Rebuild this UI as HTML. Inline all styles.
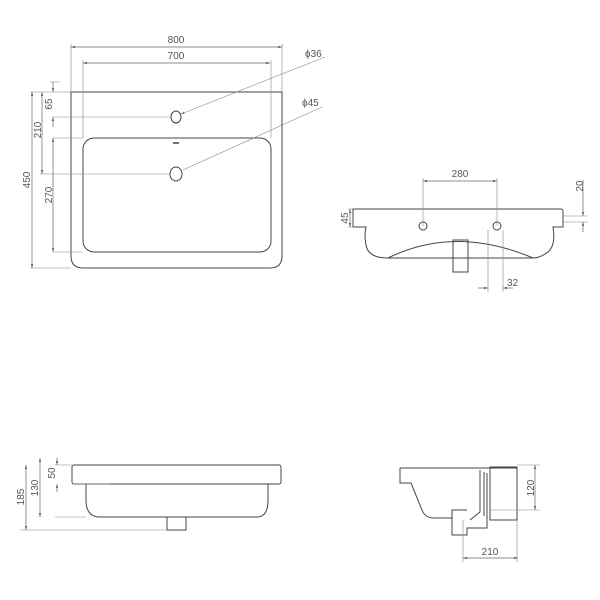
<!DOCTYPE html>
<html><head><style>body{margin:0;background:#fff}svg{display:block}text{font-family:"Liberation Sans",sans-serif;font-size:10px;fill:#555}</style></head><body>
<svg width="600" height="600" viewBox="0 0 600 600" xmlns="http://www.w3.org/2000/svg">
<defs><marker id="a" viewBox="0 0 10 10" refX="10" refY="5" markerWidth="6" markerHeight="6" orient="auto-start-reverse"><path d="M0,2L10,5L0,8z" fill="#666"/></marker></defs>
<g fill="none" stroke="#444" stroke-width="1">
<!-- top view -->
<path d="M71,92H282V256Q282,268 270,268H83Q71,268 71,256Z"/>
<rect x="83" y="138" width="188" height="114" rx="11"/>
<ellipse cx="176" cy="117" rx="5" ry="6"/>
<ellipse cx="176" cy="174" rx="6" ry="7"/>
<line x1="173" y1="143" x2="179" y2="143" stroke-width="1.5"/>
<!-- side view -->
<path d="M353,209H561Q563,209 563,212V227H553Q556,245 548,252Q540,258 533,258H388Q368,258 366,245Q364,235 366,227H353Z"/>
<path d="M388,258Q455,225 533,258"/>
<rect x="453" y="240" width="15" height="32"/>
<circle cx="423" cy="226" r="4"/><circle cx="497" cy="226" r="4"/>
<!-- bottom left -->
<rect x="72" y="465" width="209" height="19" rx="2"/>
<path d="M86,484V500Q86,517 100,517H257Q268,517 268,500V484"/>
<rect x="167" y="517" width="19" height="13"/>
<!-- bottom right -->
<path d="M400,468H517V520H490V475M400,468V483H411L422,510Q425,518 434,518H452V535H467V528H487V473M452,518V510H467"/>
<path d="M480,470V512L470,520M484,472V516"/>
<rect x="490" y="467" width="27" height="53"/>
</g>
<g fill="none" stroke="#888" stroke-width="0.6">
<path d="M71,92V44M282,92V44M83,138V60M271,138V60"/>
<path d="M30,92H71M30,268H71M53,117H170M53,138H83M40,174H170M53,252H83M50,82H60"/>
<path d="M181,114L325,57M183,170L322,107" marker-start="url(#a)"/>
<path d="M423,226V178M497,226V178M563,222H588M563,216H588M348,209H353M348,227H353M488,230V292M503,230V292"/>
<path d="M55,465H72M55,517H86M20,530H167M110,484H72M281,465H281"/>
<path d="M517,465H540M490,510H540M463,520V562M517,520V562"/>
</g>
<g stroke="#666" stroke-width="0.7" marker-start="url(#a)" marker-end="url(#a)" fill="none">
<line x1="71" y1="47" x2="282" y2="47"/><line x1="83" y1="63" x2="270" y2="63"/>
<line x1="32" y1="92" x2="32" y2="268"/><line x1="42" y1="92" x2="42" y2="174"/>
<line x1="53" y1="138" x2="53" y2="252"/>
<line x1="423" y1="181" x2="497" y2="181"/>
<line x1="350" y1="209" x2="350" y2="227"/>
<line x1="26" y1="465" x2="26" y2="530"/><line x1="40" y1="458" x2="40" y2="517"/>
<line x1="535" y1="465" x2="535" y2="510"/><line x1="463" y1="558" x2="518" y2="558"/>
</g>
<g stroke="#666" stroke-width="0.7" fill="none" marker-end="url(#a)">
<line x1="53" y1="82" x2="53" y2="92"/><line x1="53" y1="127" x2="53" y2="117"/>
<line x1="583" y1="180" x2="583" y2="216"/><line x1="583" y1="232" x2="583" y2="222"/>
<line x1="478" y1="288" x2="488" y2="288"/><line x1="513" y1="288" x2="503" y2="288"/>
<line x1="57" y1="458" x2="57" y2="465"/><line x1="57" y1="492" x2="57" y2="484"/>
</g>
<g>
<text x="176" y="43" text-anchor="middle">800</text>
<text x="176" y="59" text-anchor="middle">700</text>
<text x="305" y="57">ϕ36</text><text x="302" y="106">ϕ45</text>
<text transform="translate(30,180) rotate(-90)" text-anchor="middle">450</text>
<text transform="translate(41,130) rotate(-90)" text-anchor="middle">210</text>
<text transform="translate(52,104) rotate(-90)" text-anchor="middle">65</text>
<text transform="translate(52,195) rotate(-90)" text-anchor="middle">270</text>
<text x="460" y="177" text-anchor="middle">280</text>
<text transform="translate(583,186) rotate(-90)" text-anchor="middle">20</text>
<text transform="translate(348,218) rotate(-90)" text-anchor="middle">45</text>
<text x="507" y="286">32</text>
<text transform="translate(24,497) rotate(-90)" text-anchor="middle">185</text>
<text transform="translate(38,488) rotate(-90)" text-anchor="middle">130</text>
<text transform="translate(55,473) rotate(-90)" text-anchor="middle">50</text>
<text transform="translate(534,488) rotate(-90)" text-anchor="middle">120</text>
<text x="490" y="555" text-anchor="middle">210</text>
</g>
</svg>
</body></html>
